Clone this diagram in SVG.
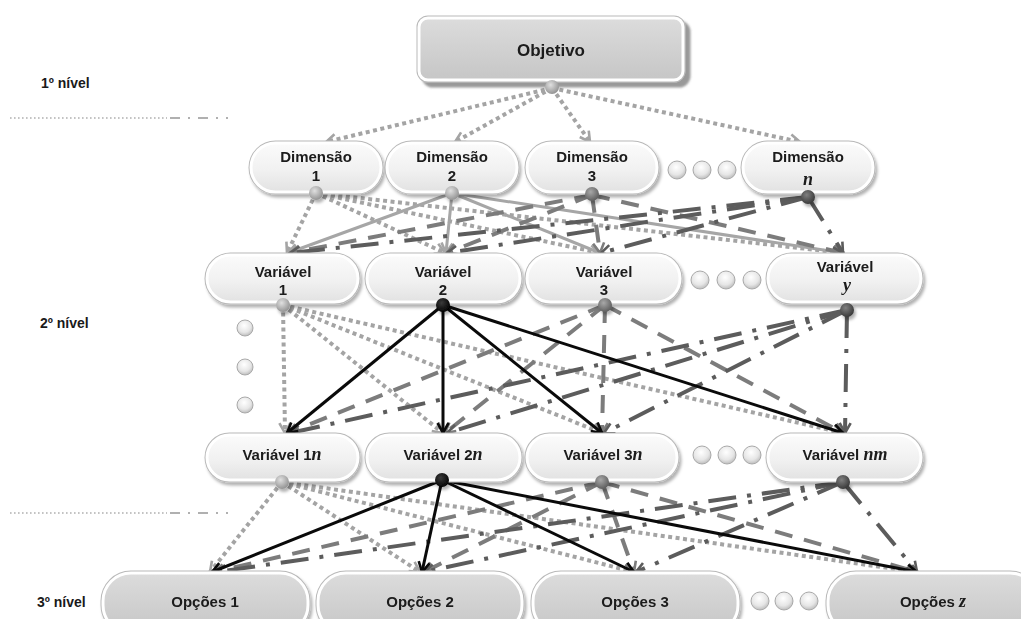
<svg xmlns="http://www.w3.org/2000/svg" xmlns:xlink="http://www.w3.org/1999/xlink" width="1021" height="619" viewBox="0 0 1021 619">
  <style>
    .lbl { font-family: "Liberation Sans", Arial, sans-serif; font-weight: bold; font-size: 15px; fill: #1a1a1a; text-anchor: middle; }
    .lvl { font-family: "Liberation Sans", Arial, sans-serif; font-weight: bold; font-size: 14px; fill: #1a1a1a; }
    .var { font-family: "Liberation Serif", "Times New Roman", serif; font-weight: bold; font-style: italic; font-size: 18px; }
    .ring { fill: none; stroke: #b9b9b9; stroke-width: 5; }
    .pill { fill: url(#gPill); stroke: #ffffff; stroke-width: 3; }
    .box { fill: url(#gBox); stroke: #ffffff; stroke-width: 3; }
    .ell { fill: url(#gEll); stroke: #a9a9a9; stroke-width: 1; }
    .sep1 { stroke: #b0b0b0; stroke-width: 1.6; stroke-dasharray: 1.6 2.4; fill: none; }
    .sep2 { stroke: #b0b0b0; stroke-width: 2; stroke-dasharray: 10 8 2 8; fill: none; }
    .c { fill: none; }
    .dot { stroke: #a4a4a4; stroke-width: 4; stroke-dasharray: 4 3.5; marker-end: url(#aDot); }
    .lite { stroke: #a6a6a6; stroke-width: 3; marker-end: url(#aLite); }
    .dash { stroke: #7c7c7c; stroke-width: 4; stroke-dasharray: 18 12; marker-end: url(#aDash); }
    .dd { stroke: #5c5c5c; stroke-width: 4; stroke-dasharray: 28 11 4 11; marker-end: url(#aDD); }
    .blk { stroke: #0a0a0a; stroke-width: 3; marker-end: url(#aBlk); }
    .head { fill: none; stroke-width: 2.6; stroke-linejoin: miter; stroke-dasharray: none; }
  </style>
  <defs>
    <linearGradient id="gPill" x1="0" y1="0" x2="0" y2="1">
      <stop offset="0" stop-color="#fbfbfb"/>
      <stop offset="0.55" stop-color="#f1f1f1"/>
      <stop offset="1" stop-color="#e2e2e2"/>
    </linearGradient>
    <linearGradient id="gBox" x1="0" y1="0" x2="0" y2="1">
      <stop offset="0" stop-color="#dcdcdc"/>
      <stop offset="1" stop-color="#c6c6c6"/>
    </linearGradient>
    <radialGradient id="gEll" cx="0.45" cy="0.35" r="0.7">
      <stop offset="0" stop-color="#ffffff"/>
      <stop offset="0.6" stop-color="#e6e6e6"/>
      <stop offset="1" stop-color="#b4b4b4"/>
    </radialGradient>
    <radialGradient id="gDotL" cx="0.4" cy="0.35" r="0.7">
      <stop offset="0" stop-color="#e0e0e0"/>
      <stop offset="1" stop-color="#8e8e8e"/>
    </radialGradient>
    <radialGradient id="gDotM" cx="0.4" cy="0.35" r="0.7">
      <stop offset="0" stop-color="#a8a8a8"/>
      <stop offset="1" stop-color="#5a5a5a"/>
    </radialGradient>
    <radialGradient id="gDotD" cx="0.4" cy="0.35" r="0.7">
      <stop offset="0" stop-color="#808080"/>
      <stop offset="1" stop-color="#353535"/>
    </radialGradient>
    <radialGradient id="gDotB" cx="0.4" cy="0.35" r="0.7">
      <stop offset="0" stop-color="#3a3a3a"/>
      <stop offset="1" stop-color="#000000"/>
    </radialGradient>
    <filter id="shSoft" x="-10%" y="-20%" width="125%" height="160%">
      <feDropShadow dx="2" dy="3" stdDeviation="1.5" flood-color="#000" flood-opacity="0.3"/>
    </filter>
    <filter id="shHard" x="-10%" y="-20%" width="125%" height="160%">
      <feDropShadow dx="5" dy="5" stdDeviation="1" flood-color="#555" flood-opacity="0.6"/>
    </filter>
    <!-- open V arrowheads, one per line colour -->
    <marker id="aDot" viewBox="0 0 14 14" refX="12" refY="7" markerWidth="14" markerHeight="14" markerUnits="userSpaceOnUse" orient="auto">
      <path class="head" d="M2,1.5 L12,7 L2,12.5" stroke="#a4a4a4"/>
    </marker>
    <marker id="aLite" viewBox="0 0 14 14" refX="12" refY="7" markerWidth="14" markerHeight="14" markerUnits="userSpaceOnUse" orient="auto">
      <path class="head" d="M2,1.5 L12,7 L2,12.5" stroke="#a6a6a6"/>
    </marker>
    <marker id="aDash" viewBox="0 0 14 14" refX="12" refY="7" markerWidth="14" markerHeight="14" markerUnits="userSpaceOnUse" orient="auto">
      <path class="head" d="M2,1.5 L12,7 L2,12.5" stroke="#7c7c7c"/>
    </marker>
    <marker id="aDD" viewBox="0 0 14 14" refX="12" refY="7" markerWidth="14" markerHeight="14" markerUnits="userSpaceOnUse" orient="auto">
      <path class="head" d="M2,1.5 L12,7 L2,12.5" stroke="#5c5c5c"/>
    </marker>
    <marker id="aBlk" viewBox="0 0 14 14" refX="12" refY="7" markerWidth="14" markerHeight="14" markerUnits="userSpaceOnUse" orient="auto">
      <path class="head" d="M2,1.5 L12,7 L2,12.5" stroke="#0a0a0a"/>
    </marker>
  </defs>

  <rect width="1021" height="619" fill="#ffffff"/>

  <!-- level labels and separators -->
  <g id="levels">
    <text class="lvl" x="41" y="88">1º nível</text>
    <text class="lvl" x="40" y="328">2º nível</text>
    <text class="lvl" x="37" y="607">3º nível</text>
    <line class="sep1" x1="10" y1="118" x2="167" y2="118"/>
    <line class="sep2" x1="170" y1="118" x2="228" y2="118"/>
    <line class="sep1" x1="10" y1="513" x2="167" y2="513"/>
    <line class="sep2" x1="170" y1="513" x2="228" y2="513"/>
  </g>

  <!-- connectors -->
  <g id="connectors" class="c">
    <!-- objective to dimensions -->
    <line class="dot" x1="552" y1="88" x2="326" y2="142"/>
    <line class="dot" x1="552" y1="88" x2="455" y2="142"/>
    <line class="dot" x1="552" y1="88" x2="590" y2="142"/>
    <line class="dot" x1="552" y1="88" x2="800" y2="142"/>

    <!-- dimensions to variables -->
    <line class="dot" x1="316" y1="193" x2="287" y2="253"/>
    <line class="dot" x1="316" y1="193" x2="445" y2="253"/>
    <line class="dot" x1="316" y1="193" x2="600" y2="253"/>
    <line class="dot" x1="316" y1="193" x2="843" y2="253"/>

    <line class="lite" x1="452" y1="193" x2="288" y2="253"/>
    <line class="lite" x1="452" y1="193" x2="446" y2="253"/>
    <line class="lite" x1="452" y1="193" x2="600" y2="253"/>
    <line class="lite" x1="452" y1="193" x2="843" y2="253"/>

    <line class="dash" x1="592" y1="195" x2="290" y2="253"/>
    <line class="dash" x1="592" y1="195" x2="447" y2="253"/>
    <line class="dash" x1="592" y1="195" x2="600" y2="253"/>
    <line class="dash" x1="592" y1="195" x2="843" y2="253"/>

    <line class="dd" x1="808" y1="197" x2="290" y2="253"/>
    <line class="dd" x1="808" y1="197" x2="447" y2="253"/>
    <line class="dd" x1="808" y1="197" x2="601" y2="253"/>
    <line class="dd" x1="808" y1="197" x2="843" y2="253"/>

    <!-- variables to sub-variables -->
    <line class="dot" x1="283" y1="305" x2="285" y2="433"/>
    <line class="dot" x1="283" y1="305" x2="443" y2="433"/>
    <line class="dot" x1="283" y1="305" x2="602" y2="433"/>
    <line class="dot" x1="283" y1="305" x2="843" y2="433"/>

    <line class="dash" x1="605" y1="305" x2="288" y2="433"/>
    <line class="dash" x1="605" y1="305" x2="445" y2="433"/>
    <line class="dash" x1="605" y1="305" x2="602" y2="433"/>
    <line class="dash" x1="605" y1="305" x2="843" y2="433"/>

    <line class="dd" x1="847" y1="310" x2="290" y2="433"/>
    <line class="dd" x1="847" y1="310" x2="447" y2="433"/>
    <line class="dd" x1="847" y1="310" x2="604" y2="433"/>
    <line class="dd" x1="847" y1="310" x2="845" y2="433"/>

    <line class="blk" x1="443" y1="305" x2="287" y2="433"/>
    <line class="blk" x1="443" y1="305" x2="443" y2="433"/>
    <line class="blk" x1="443" y1="305" x2="602" y2="433"/>
    <line class="blk" x1="443" y1="305" x2="843" y2="433"/>

    <!-- sub-variables to options -->
    <line class="dot" x1="282" y1="482" x2="210" y2="572"/>
    <line class="dot" x1="282" y1="482" x2="420" y2="572"/>
    <line class="dot" x1="282" y1="482" x2="634" y2="572"/>
    <line class="dot" x1="282" y1="482" x2="917" y2="572"/>

    <line class="dash" x1="602" y1="482" x2="214" y2="572"/>
    <line class="dash" x1="602" y1="482" x2="424" y2="572"/>
    <line class="dash" x1="602" y1="482" x2="634" y2="572"/>
    <line class="dash" x1="602" y1="482" x2="917" y2="572"/>

    <line class="dd" x1="843" y1="482" x2="216" y2="572"/>
    <line class="dd" x1="843" y1="482" x2="424" y2="572"/>
    <line class="dd" x1="843" y1="482" x2="636" y2="572"/>
    <line class="dd" x1="843" y1="482" x2="917" y2="572"/>

    <line class="blk" x1="442" y1="480" x2="212" y2="572"/>
    <line class="blk" x1="442" y1="480" x2="422" y2="572"/>
    <line class="blk" x1="442" y1="480" x2="634" y2="572"/>
    <line class="blk" x1="442" y1="480" x2="917" y2="572"/>
  </g>

  <!-- level 1 -->
  <g id="objetivo" filter="url(#shHard)">
    <rect class="ring" x="419" y="18" width="264" height="62" rx="9"/>
    <rect class="box" x="419" y="18" width="264" height="62" rx="9"/>
    <text class="lbl" x="551" y="56" style="font-size:17px">Objetivo</text>
  </g>
  <circle cx="552" cy="87" r="7" fill="url(#gDotL)"/>

  <!-- dimensions -->
  <g id="dim1" filter="url(#shSoft)">
    <rect class="ring" x="251" y="143" width="130" height="49" rx="24.5"/>
    <rect class="pill" x="251" y="143" width="130" height="49" rx="24.5"/>
    <text class="lbl" x="316" y="162">Dimensão</text>
    <text class="lbl" x="316" y="181">1</text>
    <circle cx="316" cy="193" r="7" fill="url(#gDotL)"/>
  </g>
  <g id="dim2" filter="url(#shSoft)">
    <rect class="ring" x="387" y="143" width="130" height="49" rx="24.5"/>
    <rect class="pill" x="387" y="143" width="130" height="49" rx="24.5"/>
    <text class="lbl" x="452" y="162">Dimensão</text>
    <text class="lbl" x="452" y="181">2</text>
    <circle cx="452" cy="193" r="7" fill="url(#gDotL)"/>
  </g>
  <g id="dim3" filter="url(#shSoft)">
    <rect class="ring" x="527" y="143" width="130" height="49" rx="24.5"/>
    <rect class="pill" x="527" y="143" width="130" height="49" rx="24.5"/>
    <text class="lbl" x="592" y="162">Dimensão</text>
    <text class="lbl" x="592" y="181">3</text>
    <circle cx="592" cy="194" r="7" fill="url(#gDotM)"/>
  </g>
  <g id="dimEllipsis">
    <circle class="ell" cx="677" cy="170" r="9"/>
    <circle class="ell" cx="702" cy="170" r="9"/>
    <circle class="ell" cx="727" cy="170" r="9"/>
  </g>
  <g id="dimN" filter="url(#shSoft)">
    <rect class="ring" x="743" y="143" width="130" height="49" rx="24.5"/>
    <rect class="pill" x="743" y="143" width="130" height="49" rx="24.5"/>
    <text class="lbl" x="808" y="162">Dimensão</text>
    <text class="lbl var" x="808" y="185">n</text>
    <circle cx="808" cy="197" r="7" fill="url(#gDotD)"/>
  </g>

  <!-- level 2 variables -->
  <g id="var1" filter="url(#shSoft)">
    <rect class="ring" x="207" y="255" width="151" height="47" rx="23.5"/>
    <rect class="pill" x="207" y="255" width="151" height="47" rx="23.5"/>
    <text class="lbl" x="283" y="277">Variável</text>
    <text class="lbl" x="283" y="295">1</text>
    <circle cx="283" cy="305" r="7" fill="url(#gDotL)"/>
  </g>
  <g id="var2" filter="url(#shSoft)">
    <rect class="ring" x="367" y="255" width="153" height="47" rx="23.5"/>
    <rect class="pill" x="367" y="255" width="153" height="47" rx="23.5"/>
    <text class="lbl" x="443" y="277">Variável</text>
    <text class="lbl" x="443" y="295">2</text>
    <circle cx="443" cy="305" r="7" fill="url(#gDotB)"/>
  </g>
  <g id="var3" filter="url(#shSoft)">
    <rect class="ring" x="527" y="255" width="153" height="47" rx="23.5"/>
    <rect class="pill" x="527" y="255" width="153" height="47" rx="23.5"/>
    <text class="lbl" x="604" y="277">Variável</text>
    <text class="lbl" x="604" y="295">3</text>
    <circle cx="605" cy="305" r="7" fill="url(#gDotM)"/>
  </g>
  <g id="varEllipsis">
    <circle class="ell" cx="700" cy="280" r="9"/>
    <circle class="ell" cx="726" cy="280" r="9"/>
    <circle class="ell" cx="752" cy="280" r="9"/>
  </g>
  <g id="varY" filter="url(#shSoft)">
    <rect class="ring" x="768" y="255" width="153" height="47" rx="23.5"/>
    <rect class="pill" x="768" y="255" width="153" height="47" rx="23.5"/>
    <text class="lbl" x="845" y="272">Variável</text>
    <text class="lbl var" x="847" y="291">y</text>
    <circle cx="847" cy="310" r="7" fill="url(#gDotD)"/>
  </g>
  <g id="leftEllipsis">
    <circle class="ell" cx="245" cy="328" r="8"/>
    <circle class="ell" cx="245" cy="367" r="8"/>
    <circle class="ell" cx="245" cy="405" r="8"/>
  </g>

  <!-- sub-variables -->
  <g id="var1n" filter="url(#shSoft)">
    <rect class="ring" x="207" y="435" width="151" height="45" rx="22.5"/>
    <rect class="pill" x="207" y="435" width="151" height="45" rx="22.5"/>
    <text class="lbl" x="282" y="460">Variável 1<tspan class="var">n</tspan></text>
    <circle cx="282" cy="482" r="7" fill="url(#gDotL)"/>
  </g>
  <g id="var2n" filter="url(#shSoft)">
    <rect class="ring" x="367" y="435" width="153" height="45" rx="22.5"/>
    <rect class="pill" x="367" y="435" width="153" height="45" rx="22.5"/>
    <text class="lbl" x="443" y="460">Variável 2<tspan class="var">n</tspan></text>
    <circle cx="442" cy="480" r="7" fill="url(#gDotB)"/>
  </g>
  <g id="var3n" filter="url(#shSoft)">
    <rect class="ring" x="527" y="435" width="150" height="45" rx="22.5"/>
    <rect class="pill" x="527" y="435" width="150" height="45" rx="22.5"/>
    <text class="lbl" x="603" y="460">Variável 3<tspan class="var">n</tspan></text>
    <circle cx="602" cy="482" r="7" fill="url(#gDotM)"/>
  </g>
  <g id="subEllipsis">
    <circle class="ell" cx="702" cy="455" r="9"/>
    <circle class="ell" cx="727" cy="455" r="9"/>
    <circle class="ell" cx="752" cy="455" r="9"/>
  </g>
  <g id="varNM" filter="url(#shSoft)">
    <rect class="ring" x="768" y="435" width="153" height="45" rx="22.5"/>
    <rect class="pill" x="768" y="435" width="153" height="45" rx="22.5"/>
    <text class="lbl" x="845" y="460">Variável <tspan class="var">nm</tspan></text>
    <circle cx="843" cy="482" r="7" fill="url(#gDotD)"/>
  </g>

  <!-- level 3 options -->
  <g id="opcoes1" filter="url(#shSoft)">
    <rect class="ring" x="103" y="573" width="205" height="60" rx="28"/>
    <rect class="box" x="103" y="573" width="205" height="60" rx="28"/>
    <text class="lbl" x="205" y="607">Opções 1</text>
  </g>
  <g id="opcoes2" filter="url(#shSoft)">
    <rect class="ring" x="318" y="573" width="204" height="60" rx="28"/>
    <rect class="box" x="318" y="573" width="204" height="60" rx="28"/>
    <text class="lbl" x="420" y="607">Opções 2</text>
  </g>
  <g id="opcoes3" filter="url(#shSoft)">
    <rect class="ring" x="533" y="573" width="205" height="60" rx="28"/>
    <rect class="box" x="533" y="573" width="205" height="60" rx="28"/>
    <text class="lbl" x="635" y="607">Opções 3</text>
  </g>
  <g id="optEllipsis">
    <circle class="ell" cx="760" cy="601" r="9"/>
    <circle class="ell" cx="784" cy="601" r="9"/>
    <circle class="ell" cx="809" cy="601" r="9"/>
  </g>
  <g id="opcoesZ" filter="url(#shSoft)">
    <rect class="ring" x="828" y="573" width="210" height="60" rx="28"/>
    <rect class="box" x="828" y="573" width="210" height="60" rx="28"/>
    <text class="lbl" x="933" y="607">Opções <tspan class="var">z</tspan></text>
  </g>
</svg>
